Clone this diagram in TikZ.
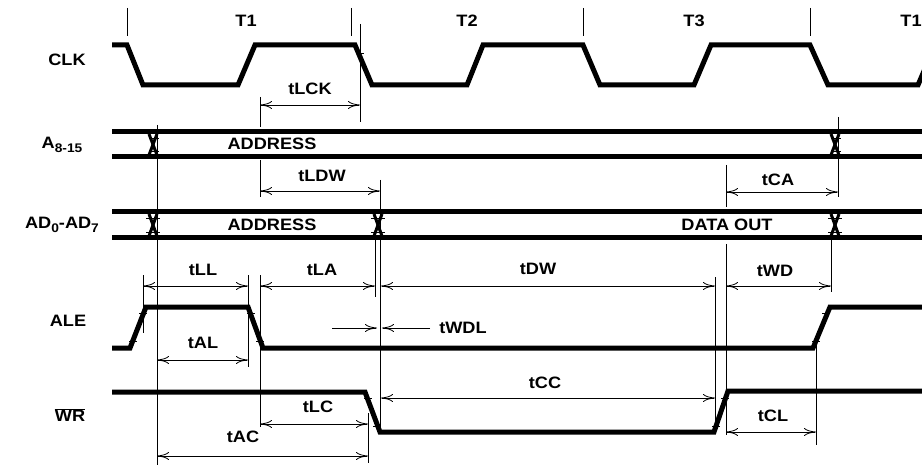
\documentclass[tikz,border=0pt]{standalone}
\usepackage{fontspec}
\setmainfont[FakeStretch=1.1]{Liberation Sans}
\usetikzlibrary{arrows.meta}
\begin{document}
\begin{tikzpicture}[x=1pt,y=-1pt,
  wave/.style={line width=5pt, line join=miter},
  bus/.style={line width=5pt},
  guide/.style={line width=0.8pt},
  dim/.style={line width=0.8pt, {To[length=12pt,width=8pt]}-{To[length=12pt,width=8pt]}},
  onedim/.style={line width=0.8pt, -{To[length=12pt,width=8pt]}},
  lbl/.style={font=\fontsize{16.5}{19}\selectfont\bfseries, inner sep=0pt}]
\useasboundingbox (0,0) rectangle (922,468);
% clock
\draw[wave] (112,45) -- (127,45) -- (143,85) -- (238,85) -- (255,45) -- (355,45) -- (372,85)
  -- (467,85) -- (483,45) -- (583,45) -- (600,85) -- (694,85) -- (711,45) -- (810,45)
  -- (828,85) -- (918,85) -- (927,64);
\foreach \x in {127,351,583,810} \draw[guide] (\x,8) -- (\x,36);
\node[lbl] (t1a) at (246,21) {T1};
\node[lbl] (t2) at (467,21) {T2};
\node[lbl] (t3) at (694,21) {T3};
\node[lbl] (t1b) at (911,21) {T1};
\node[lbl] (clk) at (67,60) {CLK};
% buses
\draw[bus] (112,132) -- (922,132);
\draw[bus] (112,157) -- (922,157);
\draw[bus] (112,212) -- (922,212);
\draw[bus] (112,238) -- (922,238);
\foreach \x in {153,835} {
  \draw[line width=3pt] (\x-4,134) -- (\x+4,155);
  \draw[line width=3pt] (\x+4,134) -- (\x-4,155);
  \draw[guide] (\x-1,138) -- (\x+6,138) (\x-1,151) -- (\x+6,151);
}
\foreach \x in {153,378,835} {
  \draw[line width=3pt] (\x-4,214) -- (\x+4,236);
  \draw[line width=3pt] (\x+4,214) -- (\x-4,236);
  \draw[guide] (\x-7,218) -- (\x+7,218) (\x-7,232) -- (\x+7,232);
}
\node[lbl] (addra) at (272,144) {ADDRESS};
\node[lbl] (abus) at (62,145) {A\raisebox{-0.4ex}{\fontsize{12.5}{12}\selectfont 8-15}};
\node[lbl] (addrb) at (272,225) {ADDRESS};
\node[lbl] (dout) at (727,225) {DATA OUT};
\node[lbl] (adbus) at (62,225) {AD\raisebox{-0.4ex}{\fontsize{12.5}{12}\selectfont 0}-AD\raisebox{-0.4ex}{\fontsize{12.5}{12}\selectfont 7}};
% ALE and WR
\draw[wave] (112,348) -- (130,348) -- (146,307) -- (248,307) -- (263,348) -- (813,348)
  -- (830,307) -- (922,307);
\draw[wave] (112,392) -- (365,392) -- (380,432) -- (714,432) -- (728,391) -- (922,391);
\node[lbl] (ale) at (68,321) {ALE};
\node[lbl] (wr) at (70,415) {$\overline{\mbox{WR}}$};
\foreach \x/\y in {143/313,133/341,251/313,260/341,368/398,377/426,716/426,725/398,816/341,826/313}
  \draw[guide] (\x-4,\y) -- (\x+4,\y);
\draw[guide] (356,53) -- (364,53);
% guide lines
\draw[guide] (360,24) -- (360,122);
\draw[guide] (260,97) -- (260,127);
\draw[guide] (260,160) -- (260,197);
\draw[guide] (157,125) -- (157,465);
\draw[guide] (838,117) -- (838,197);
\draw[guide] (380,180) -- (380,428);
\draw[guide] (726,165) -- (726,207);
\draw[guide] (143,275) -- (143,333);
\draw[guide] (248,275) -- (248,367);
\draw[guide] (260,275) -- (260,427);
\draw[guide] (375,240) -- (375,297);
\draw[guide] (715,277) -- (715,432);
\draw[guide] (726,244) -- (726,435);
\draw[guide] (831,240) -- (831,292);
\draw[guide] (368,413) -- (368,463);
\draw[guide] (816,340) -- (816,445);
% timing arrows
\coordinate (lckL) at (260,105);  \coordinate (lckR) at (360,105);
\coordinate (ldwL) at (260,191);  \coordinate (ldwR) at (380,191);
\coordinate (caL) at (726,192);   \coordinate (caR) at (838,192);
\coordinate (llL) at (143,286);   \coordinate (llR) at (248,286);
\coordinate (laL) at (260,286);   \coordinate (laR) at (375,286);
\coordinate (dwL) at (381,286);   \coordinate (dwR) at (715,286);
\coordinate (wdL) at (726,286);   \coordinate (wdR) at (831,286);
\coordinate (alL) at (157,360);   \coordinate (alR) at (248,360);
\coordinate (wdlA) at (332,328);  \coordinate (wdlB) at (377,328);
\coordinate (wdlC) at (430,328);  \coordinate (wdlD) at (382,328);
\coordinate (ccL) at (381,398);   \coordinate (ccR) at (715,398);
\coordinate (lcL) at (260,424);   \coordinate (lcR) at (368,424);
\coordinate (acL) at (157,456);   \coordinate (acR) at (368,456);
\coordinate (clL) at (726,432);   \coordinate (clR) at (816,432);
\draw[dim] (lckL) -- (lckR);
\draw[dim] (ldwL) -- (ldwR);
\draw[dim] (caL) -- (caR);
\draw[dim] (llL) -- (llR);
\draw[dim] (laL) -- (laR);
\draw[dim] (dwL) -- (dwR);
\draw[dim] (wdL) -- (wdR);
\draw[dim] (alL) -- (alR);
\draw[onedim] (wdlA) -- (wdlB);
\draw[onedim] (wdlC) -- (wdlD);
\draw[dim] (ccL) -- (ccR);
\draw[dim] (lcL) -- (lcR);
\draw[dim] (acL) -- (acR);
\draw[dim] (clL) -- (clR);
\node[lbl] (tlck) at (310,89) {tLCK};
\node[lbl] (tldw) at (322,176) {tLDW};
\node[lbl] (tca) at (778,180) {tCA};
\node[lbl] (tll) at (203,270) {tLL};
\node[lbl] (tla) at (322,270) {tLA};
\node[lbl] (tdw) at (538,269) {tDW};
\node[lbl] (twd) at (775,271) {tWD};
\node[lbl] (tal) at (203,343) {tAL};
\node[lbl] (twdl) at (463,328) {tWDL};
\node[lbl] (tcc) at (545,383) {tCC};
\node[lbl] (tlc) at (318,407) {tLC};
\node[lbl] (tac) at (243,437) {tAC};
\node[lbl] (tcl) at (773,416) {tCL};
\end{tikzpicture}
\end{document}
